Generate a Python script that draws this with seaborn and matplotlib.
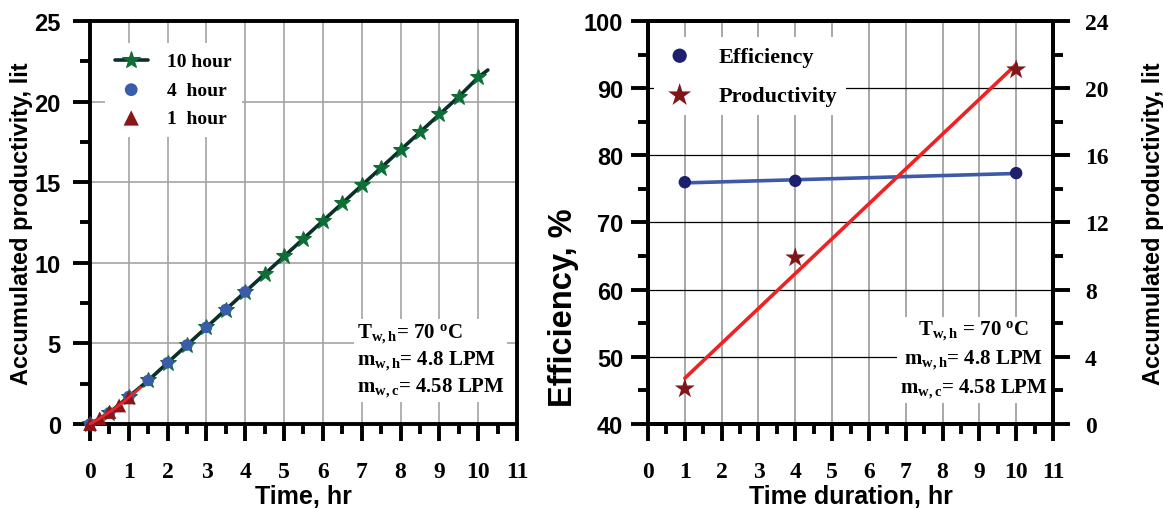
import numpy as np
import matplotlib
matplotlib.use("Agg")
import matplotlib.pyplot as plt
from matplotlib.ticker import MultipleLocator
import seaborn as sns

# ---------------- data ----------------
# Left panel: accumulated productivity vs time for three test durations
time_10h = [0, 0.5, 1, 1.5, 2, 2.5, 3, 3.5, 4, 4.5, 5, 5.5, 6, 6.5, 7, 7.5, 8, 8.5, 9, 9.5, 10]
prod_10h = [0, 0.7, 1.7, 2.7, 3.8, 4.9, 6.0, 7.1, 8.2, 9.3, 10.4, 11.5, 12.6, 13.7, 14.8,
            15.9, 17.0, 18.1, 19.2, 20.3, 21.5]
time_4h = [0, 0.5, 1, 1.5, 2, 2.5, 3, 3.5, 4]
prod_4h = [0, 0.7, 1.7, 2.7, 3.8, 4.9, 6.0, 7.1, 8.2]
time_1h = [0, 0.25, 0.5, 0.75, 1.0]
prod_1h = [0, 0.35, 0.75, 1.15, 1.65]
left_labels = ["10 hour", "4  hour", "1  hour"]

# Right panel: efficiency and productivity vs time duration
duration = [1, 4, 10]
efficiency = [76.0, 76.2, 77.35]
productivity = [2.1, 9.9, 21.1]
right_labels = ["Efficiency", "Productivity"]

x_ticks = list(range(0, 12))
left_y_ticks = [0, 5, 10, 15, 20, 25]
eff_ticks = [40, 50, 60, 70, 80, 90, 100]
prod_ticks = [0, 4, 8, 12, 16, 20, 24]

# ---------------- style ----------------
sns.set_style("ticks")
plt.rcParams["font.family"] = ["Liberation Sans", "DejaVu Sans"]
plt.rcParams["text.color"] = "black"
plt.rcParams["axes.labelcolor"] = "black"
plt.rcParams["xtick.color"] = "black"
plt.rcParams["ytick.color"] = "black"
plt.rcParams["mathtext.fontset"] = "custom"
plt.rcParams["mathtext.rm"] = "Liberation Serif:bold"
plt.rcParams["mathtext.it"] = "Liberation Serif:bold"
plt.rcParams["mathtext.bf"] = "Liberation Serif:bold"

SERIF = "Liberation Serif"
SANS = "Liberation Sans"
SPINE_W = 2.8

fig = plt.figure(figsize=(11.63, 5.10), dpi=100)
axL = fig.add_axes([0.0774, 0.1667, 0.3671, 0.7902])
axR = fig.add_axes([0.5572, 0.1667, 0.3482, 0.7902])


def style_axis(ax):
    for sp in ax.spines.values():
        sp.set_linewidth(SPINE_W)
        sp.set_color("black")
        sp.set_visible(True)
    ax.tick_params(which="major", direction="out", length=12, width=SPINE_W, color="black",
                   labelcolor="black")
    ax.tick_params(which="minor", direction="out", length=7, width=SPINE_W, color="black")
    ax.tick_params(axis="x", which="major", pad=15)


# ---------------- left panel ----------------
axL.set_axisbelow(True)
axL.set_xlim(0, 11)
axL.set_ylim(0, 25)
axL.set_xticks(x_ticks, labels=[str(t) for t in x_ticks], fontfamily=SERIF,
               fontweight="bold", fontsize=17)
axL.set_yticks(left_y_ticks, labels=[str(t) for t in left_y_ticks], fontfamily=SANS,
               fontweight="bold", fontsize=17)
axL.xaxis.set_minor_locator(MultipleLocator(0.5))
axL.yaxis.set_minor_locator(MultipleLocator(2.5))
axL.grid(True, which="major", color="#a3a3a3", linewidth=1.2)
style_axis(axL)
axL.tick_params(axis="y", which="major", pad=9)

# 10 hour line (with short extension beyond the last point)
fit10 = np.polyfit(time_10h[2:], prod_10h[2:], 1)
line_t = np.append(time_10h, time_10h[-1] + 0.25)
line_p = np.append(prod_10h, np.polyval(fit10, time_10h[-1] + 0.25))
sns.lineplot(x=line_t, y=line_p, ax=axL, color="#0b2f2a", linewidth=2.6, sort=False,
             marker="*", markersize=12, markerfacecolor="#0e6e36", markeredgecolor="#0e6e36",
             markevery=list(range(len(time_10h))), label=left_labels[0], zorder=3,
             clip_on=False)
sns.scatterplot(x=time_4h, y=prod_4h, ax=axL, marker="o", s=70, color="#3b5ca9",
                edgecolor="none", label=left_labels[1], zorder=4, clip_on=False)
sns.scatterplot(x=time_1h, y=prod_1h, ax=axL, marker="^", s=100, color="#8b1519",
                edgecolor="none", label=left_labels[2], zorder=5, clip_on=False)
fit1 = np.polyfit(time_1h, prod_1h, 2)
t1 = np.linspace(0, 1.3, 30)
sns.lineplot(x=t1, y=np.polyval(fit1, t1), ax=axL, color="#e8262a", linewidth=2.0,
             sort=False, zorder=6, clip_on=False)

h, l = axL.get_legend_handles_labels()
legL = axL.legend(h[:3], l[:3], loc="upper left", bbox_to_anchor=(0.035, 0.945),
                  borderaxespad=0, prop={"family": SERIF, "weight": "bold", "size": 14},
                  frameon=True, fancybox=False, framealpha=1, edgecolor="none",
                  handlelength=1.7, handletextpad=1.0, labelspacing=0.55, borderpad=0.5,
                  markerscale=1.1)

axL.text(0.625, 0.062,
         "$\\mathrm{T_{w,h}}$= 70 $^{\\mathrm{o}}$C\n"
         "$\\mathrm{m_{w,h}}$= 4.8 LPM\n"
         "$\\mathrm{m_{w,c}}$= 4.58 LPM",
         transform=axL.transAxes, ha="left", va="bottom", fontfamily=SERIF,
         fontweight="bold", fontsize=15, linespacing=1.25, zorder=7,
         bbox=dict(facecolor="white", edgecolor="none", pad=2))

axL.set_xlabel("Time, hr", fontfamily=SANS, fontweight="bold", fontsize=18, labelpad=1)
axL.set_ylabel("Accumulated productivity, lit", fontfamily=SANS, fontweight="bold",
               fontsize=17)
axL.yaxis.set_label_coords(-0.133, 0.5)

# ---------------- right panel ----------------
axR.set_axisbelow(True)
axR.set_xlim(0, 11)
axR.set_ylim(40, 100)
axR.set_xticks(x_ticks, labels=[str(t) for t in x_ticks], fontfamily=SERIF,
               fontweight="bold", fontsize=17)
axR.set_yticks(eff_ticks, labels=[str(t) for t in eff_ticks], fontfamily=SANS,
               fontweight="bold", fontsize=17)
axR.xaxis.set_minor_locator(MultipleLocator(0.5))
axR.yaxis.set_minor_locator(MultipleLocator(5))
axR.grid(True, axis="x", which="major", color="#9a9a9a", linewidth=1.2)
axR.grid(True, axis="y", which="major", color="black", linewidth=0.9)
style_axis(axR)
axR.tick_params(axis="y", which="major", pad=6)

eff_fit = np.polyfit(duration, efficiency, 1)
fx = np.array([duration[0], duration[-1]], dtype=float)
sns.lineplot(x=fx, y=np.polyval(eff_fit, fx), ax=axR, color="#3d5aa8", linewidth=2.6,
             zorder=3)
sns.scatterplot(x=duration, y=efficiency, ax=axR, marker="o", s=80, color="#1d206c",
                edgecolor="none", label=right_labels[0], zorder=4)

axR2 = axR.twinx()
axR2.set_ylim(0, 24)
axR2.set_yticks(prod_ticks, labels=[str(t) for t in prod_ticks], fontfamily=SERIF,
                fontweight="bold", fontsize=17)
axR2.yaxis.set_minor_locator(MultipleLocator(2))
style_axis(axR2)
axR2.tick_params(axis="y", which="major", pad=11)

prod_fit = np.polyfit(duration, productivity, 1)
sns.lineplot(x=fx, y=np.polyval(prod_fit, fx), ax=axR2, color="#ee2222", linewidth=2.6,
             zorder=3)
sns.scatterplot(x=duration, y=productivity, ax=axR2, marker="*", s=230, color="#7f1619",
                edgecolor="none", label=right_labels[1], zorder=4)

h1, l1 = axR.get_legend_handles_labels()
h2, l2 = axR2.get_legend_handles_labels()
if axR.get_legend() is not None:
    axR.get_legend().remove()
legR = axR2.legend(h1 + h2, l1 + l2, loc="upper left", bbox_to_anchor=(0.015, 0.96),
                   borderaxespad=0, prop={"family": SERIF, "weight": "bold", "size": 16},
                   frameon=True, fancybox=False, framealpha=1, edgecolor="none",
                   handlelength=1.5, handletextpad=1.0, labelspacing=0.85, borderpad=0.4,
                   markerscale=1.15)

axR2.text(0.805, 0.06,
          "$\\mathrm{T_{w,h}}$ = 70 $^{\\mathrm{o}}$C\n"
          "$\\mathrm{m_{w,h}}$= 4.8 LPM\n"
          "$\\mathrm{m_{w,c}}$= 4.58 LPM",
          transform=axR2.transAxes, ha="center", va="bottom", multialignment="center",
          fontfamily=SERIF, fontweight="bold", fontsize=15, linespacing=1.35, zorder=7,
          bbox=dict(facecolor="white", edgecolor="none", pad=2))

axR.set_xlabel("Time duration, hr", fontfamily=SANS, fontweight="bold", fontsize=18,
               labelpad=1)
axR.set_ylabel("Efficiency, %", fontfamily=SANS, fontweight="bold", fontsize=23.5)
axR.yaxis.set_label_coords(-0.170, 0.29)
axR2.set_ylabel("Accumulated productivity, lit", fontfamily=SANS, fontweight="bold",
                fontsize=17, labelpad=24)

fig.savefig("out.png", dpi=100)
